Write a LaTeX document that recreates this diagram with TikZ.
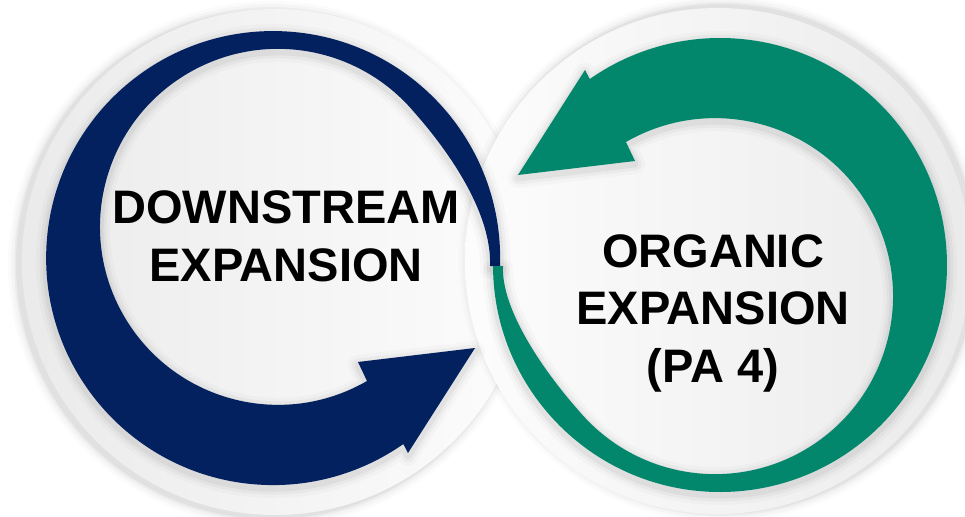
\documentclass[tikz,border=0pt]{standalone}
\usepackage{fontspec}
\setmainfont{Liberation Sans}
\definecolor{dsblue}{HTML}{03215E}
\definecolor{orggreen}{HTML}{02876D}
\newcommand{\swirlpath}[3]{(490,#1) -- (500,#1) arc[start angle=#2, end angle=-305, radius=227] -- (408,453) -- (475,348) -- (358,362) -- (367,381) arc[start angle=60, end angle=320, radius=178] .. controls (452,155) and (#3,215) .. (490,#1) -- cycle}
\begin{document}
\begin{tikzpicture}[x=1pt,y=-1pt,
  txt/.style={font=\fontsize{47}{57.5}\selectfont\bfseries, align=center, inner sep=0pt, text=black},
  glow/.style={draw=black, line join=round, fill=none}]
\useasboundingbox (0,0) rectangle (965,516);
\fill[white] (0,0) rectangle (965,516);
% left disc
\foreach \r/\o in {263/0.015,260/0.025,257/0.035,255/0.045}{\fill[black,opacity=\o] (271,264) circle (\r);}
\shade[left color=black!8, right color=black!1] (275,262) circle (253);
% right disc
\foreach \r/\o in {263/0.015,260/0.025,257/0.035,255/0.045}{\fill[black,opacity=\o] (722,259) circle (\r);}
\shade[left color=black!1, right color=black!8] (718,261) circle (253);
% blue swirl
\foreach \w/\o in {20/0.02,13/0.03,7/0.045}{\draw[glow, line width=\w pt, opacity=\o] [shift={(0,3)}] \swirlpath{266}{2}{492};}
\fill[dsblue] \swirlpath{266}{2}{492};
% green swirl
\begin{scope}[rotate around={180:(496.5,261.5)}]
\foreach \w/\o in {20/0.02,13/0.03,7/0.045}{\draw[glow, line width=\w pt, opacity=\o] [shift={(0,-3)}] \swirlpath{257}{-0.25}{492};}
\fill[orggreen] \swirlpath{257}{-0.25}{492};
\end{scope}
% texts
\node[txt] (down) at (286,236.5) {DOWNSTREAM\\EXPANSION};
\node[txt] (org) at (713,313) {ORGANIC\\EXPANSION\\(PA 4)};
\end{tikzpicture}
\end{document}
